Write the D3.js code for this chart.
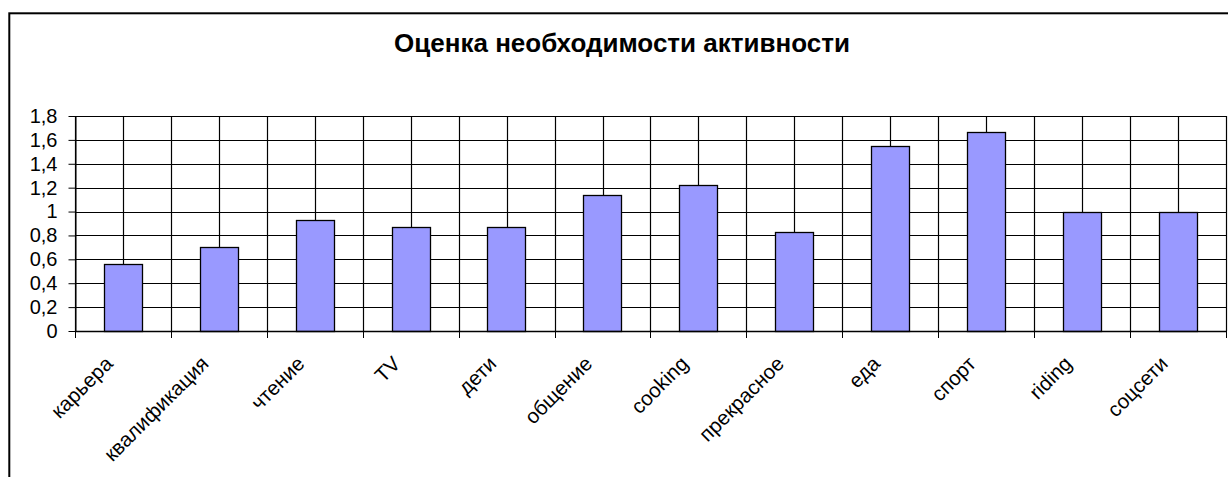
<!DOCTYPE html>
<html>
<head>
<meta charset="utf-8">
<script src="https://cdn.jsdelivr.net/npm/d3@7"></script>
<style>
  body { margin: 0; background: #fff; }
  svg { display: block; font-family: Arial, "Liberation Sans", sans-serif; }
</style>
</head>
<body>
<div id="chart"></div>
<script>
const categories = ['карьера', 'квалификация', 'чтение', 'TV', 'дети', 'общение',
    'cooking', 'прекрасное', 'еда', 'спорт', 'riding', 'соцсети'];
const values = [0.56, 0.70, 0.93, 0.87, 0.87, 1.14, 1.22, 0.83, 1.55, 1.67, 1.0, 1.0];
const yTicks = [0, 0.2, 0.4, 0.6, 0.8, 1, 1.2, 1.4, 1.6, 1.8];
const title = 'Оценка необходимости активности';

const width = 1228,
    height = 477;
const margin = { top: 116, right: 2, bottom: 146, left: 75 };

const svg = d3.select('#chart').append('svg')
    .attr('width', width)
    .attr('height', height);

// outer chart frame (right and bottom run off the picture)
svg.append('rect')
    .attr('x', 9.3)
    .attr('y', 13.3)
    .attr('width', 1400)
    .attr('height', 700)
    .attr('fill', 'none')
    .attr('stroke', '#000')
    .attr('stroke-width', 2);

const x = d3.scaleBand()
    .domain(categories)
    .range([margin.left, width - margin.right])
    .paddingInner(0.6)
    .paddingOuter(0.3);

const y = d3.scaleLinear()
    .domain([0, 1.8])
    .range([height - margin.bottom, margin.top]);

const ru = d3.formatLocale({ decimal: ',', thousands: ' ', grouping: [3], currency: ['', ''] });
const fmt = ru.format('~g');

const step = x.step();
const centers = categories.map(c => x(c) + x.bandwidth() / 2);
const bounds = categories.map(c => x(c) + x.bandwidth() / 2 - step / 2)
    .concat([x(categories[categories.length - 1]) + x.bandwidth() / 2 + step / 2]);
const vLines = centers.concat(bounds);

// horizontal grid
svg.append('g')
    .selectAll('line')
    .data(yTicks)
    .join('line')
    .attr('x1', margin.left)
    .attr('x2', bounds[bounds.length - 1])
    .attr('y1', d => Math.round(y(d)) + 0.5)
    .attr('y2', d => Math.round(y(d)) + 0.5)
    .attr('stroke', '#000')
    .attr('stroke-width', 1.2);

// vertical grid (every half category)
svg.append('g')
    .selectAll('line')
    .data(vLines)
    .join('line')
    .attr('x1', d => Math.round(d) + 0.5)
    .attr('x2', d => Math.round(d) + 0.5)
    .attr('y1', y(1.8))
    .attr('y2', y(0))
    .attr('stroke', '#000')
    .attr('stroke-width', 1.2);

// bars
svg.append('g')
    .selectAll('rect')
    .data(values)
    .join('rect')
    .attr('x', (d, i) => Math.round(x(categories[i])) + 0.5)
    .attr('y', d => Math.round(y(d)) + 0.5)
    .attr('width', Math.round(x.bandwidth()))
    .attr('height', d => Math.round(y(0)) - Math.round(y(d)))
    .attr('fill', '#9999FF')
    .attr('stroke', '#000')
    .attr('stroke-width', 1.3);

// y axis
const yAxis = d3.axisLeft(y)
    .tickValues(yTicks)
    .tickFormat(fmt)
    .tickSize(7)
    .tickPadding(11)
    .tickSizeOuter(0);

const gY = svg.append('g')
    .attr('transform', 'translate(' + (margin.left + 0.5) + ',0)')
    .call(yAxis);
gY.selectAll('text')
    .style('font-size', '20px')
    .style('fill', '#000')
    .attr('font-family', null);
gY.selectAll('line').attr('stroke', '#000');
gY.select('.domain').attr('stroke', '#000');

// x axis line and boundary tick marks
const gX = svg.append('g');
gX.append('line')
    .attr('x1', margin.left)
    .attr('x2', bounds[bounds.length - 1])
    .attr('y1', Math.round(y(0)) + 0.5)
    .attr('y2', Math.round(y(0)) + 0.5)
    .attr('stroke', '#000')
    .attr('stroke-width', 1.5);
gX.selectAll('.btick')
    .data(bounds)
    .join('line')
    .attr('class', 'btick')
    .attr('x1', d => Math.round(d) + 0.5)
    .attr('x2', d => Math.round(d) + 0.5)
    .attr('y1', y(0))
    .attr('y2', y(0) + 7)
    .attr('stroke', '#000');

// category labels, rotated
gX.selectAll('.clabel')
    .data(categories)
    .join('text')
    .attr('class', 'clabel')
    .attr('transform', (d, i) => 'translate(' + (centers[i] - 9) + ',' + (y(0) + 34) + ') rotate(-45)')
    .attr('text-anchor', 'end')
    .style('font-size', '20.5px')
    .style('fill', '#000')
    .text(d => d);

// title
svg.append('text')
    .attr('x', 622)
    .attr('y', 52)
    .attr('text-anchor', 'middle')
    .style('font-size', '26px')
    .style('font-weight', 'bold')
    .style('fill', '#000')
    .text(title);
</script>
</body>
</html>
